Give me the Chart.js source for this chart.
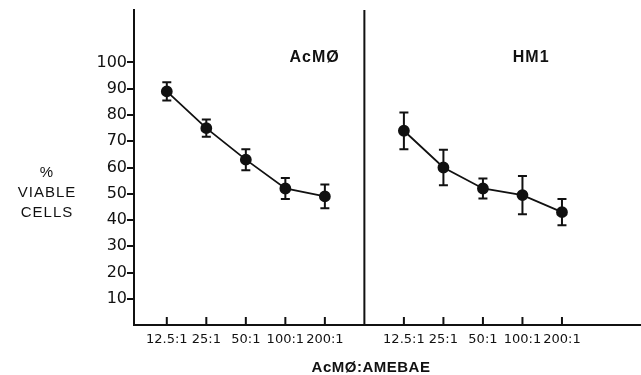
<!DOCTYPE html>
<html>
<head>
<meta charset="utf-8">
<script src="https://cdn.jsdelivr.net/npm/chart.js@4.4.1/dist/chart.umd.min.js"></script>
<style>
  html, body { margin: 0; padding: 0; background: #fff; }
  #wrap { width: 641px; height: 375px; }
</style>
</head>
<body>
<div id="wrap"><canvas id="c" width="641" height="375"></canvas></div>
<script>
// ratios AcMØ:amebae, same for both panels
const ratios = ["12.5:1", "25:1", "50:1", "100:1", "200:1"];
const panels = ["AcMØ", "HM1"];
// % viable cells (mean) and error bar half-height
const acmoMean = [89, 75, 63, 52, 49];
const acmoErr = [3.5, 3.3, 4, 4, 4.5];
const hm1Mean = [74, 60, 52, 49.5, 43];
const hm1Err = [7, 6.8, 3.8, 7.3, 5];
const yTicks = [10, 20, 30, 40, 50, 60, 70, 80, 90, 100];
const yTitle = ["%", "VIABLE", "CELLS"];
const xTitle = "AcMØ:AMEBAE";

const INK = "#111";
const GAP = ratios.length; // x slot of the panel divider
const pos = (panel, i) => panel * (GAP + 1) + i; // x slot for a ratio
const pts = (panel, arr) => arr.map((v, i) => ({ x: pos(panel, i), y: v }));
const errs = [acmoErr, hm1Err];
const means = [acmoMean, hm1Mean];

Chart.defaults.color = INK;
Chart.defaults.font.family = "'DejaVu Sans', sans-serif";

/* ---------- extras: error bars, x ticks, divider, labels ---------- */
const extras = {
  id: "extras",
  afterDatasetsDraw(chart) {
    const { ctx, scales: { x, y }, chartArea: a } = chart;
    ctx.save();
    ctx.strokeStyle = INK;
    ctx.lineWidth = 2;

    // error bars
    means.forEach((arr, p) => arr.forEach((m, i) => {
      const px = x.getPixelForValue(pos(p, i));
      const t = y.getPixelForValue(m + errs[p][i]);
      const b = y.getPixelForValue(m - errs[p][i]);
      ctx.beginPath();
      ctx.moveTo(px, t); ctx.lineTo(px, b);
      ctx.moveTo(px - 4.5, t); ctx.lineTo(px + 4.5, t);
      ctx.moveTo(px - 4.5, b); ctx.lineTo(px + 4.5, b);
      ctx.stroke();
    }));

    // x tick marks pointing up into the plot
    ctx.beginPath();
    [0, 1].forEach((p) => ratios.forEach((_, i) => {
      const px = x.getPixelForValue(pos(p, i));
      ctx.moveTo(px, a.bottom); ctx.lineTo(px, a.bottom - 8);
    }));
    // panel divider
    const dx = x.getPixelForValue(GAP);
    ctx.moveTo(dx, a.top); ctx.lineTo(dx, a.bottom);
    ctx.stroke();

    // panel names
    ctx.fillStyle = INK;
    ctx.textAlign = "center";
    ctx.textBaseline = "middle";
    ctx.font = "bold 16px 'Liberation Sans', sans-serif";
    ctx.letterSpacing = "1px";
    ctx.fillText(panels[0], x.getPixelForValue(3.74), y.getPixelForValue(102));
    ctx.fillText(panels[1], x.getPixelForValue(9.22), y.getPixelForValue(102));

    // y title, horizontal, three lines
    ctx.font = "15px 'Liberation Sans', sans-serif";
    yTitle.forEach((s, i) => ctx.fillText(s, 47, 173 + i * 20));

    // x title
    ctx.letterSpacing = "0.5px";
    ctx.font = "bold 15px 'Liberation Sans', sans-serif";
    ctx.fillText(xTitle, 371, 368);
    ctx.restore();
  },
};

new Chart(document.getElementById("c"), {
  type: "scatter",
  data: {
    datasets: [
      { data: pts(0, acmoMean) },
      { data: pts(1, hm1Mean) },
    ].map((d) => Object.assign(d, {
      showLine: true, borderColor: INK, borderWidth: 1.8,
      pointRadius: 5, pointBackgroundColor: INK, pointBorderColor: INK,
    })),
  },
  options: {
    responsive: false, animation: false,
    layout: { autoPadding: false, padding: { top: 10, right: 0, left: 0, bottom: 0 } },
    plugins: { legend: { display: false }, tooltip: { enabled: false } },
    scales: {
      x: {
        type: "linear", min: -0.83, max: 12,
        afterBuildTicks: (s) => { s.ticks = [0, 1].flatMap((p) => ratios.map((_, i) => ({ value: pos(p, i) }))); },
        afterFit: (s) => { s.height = 50; s.paddingRight = 0; s.paddingLeft = 0; },
        grid: { display: false },
        border: { color: INK, width: 2 },
        ticks: {
          autoSkip: false, maxRotation: 0, padding: -1,
          font: { size: 13 },
          callback: (v) => ratios[v % (GAP + 1)],
        },
      },
      y: {
        min: 0, max: 120,
        afterBuildTicks: (s) => { s.ticks = yTicks.map((v) => ({ value: v })); },
        afterFit: (s) => { s.width = 134; s.paddingTop = 0; s.paddingBottom = 0; },
        grid: { drawOnChartArea: false, tickLength: 7, color: INK, lineWidth: 2 },
        border: { color: INK, width: 2 },
        ticks: { padding: 0, font: { size: 16 } },
      },
    },
  },
  plugins: [extras],
});
</script>
</body>
</html>
